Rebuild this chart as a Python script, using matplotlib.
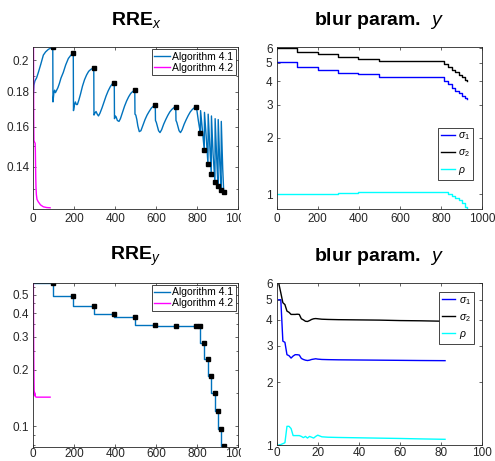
import matplotlib
matplotlib.use('Agg')
import matplotlib.pyplot as plt
from matplotlib.ticker import FixedLocator, NullFormatter, NullLocator
from matplotlib.transforms import Bbox, TransformedBbox

plt.rcParams['font.family'] = ['Liberation Sans', 'DejaVu Sans']
plt.rcParams['mathtext.fontset'] = 'custom'
plt.rcParams['mathtext.rm'] = 'Liberation Sans'
plt.rcParams['mathtext.it'] = 'Liberation Sans:italic'
plt.rcParams['mathtext.bf'] = 'Liberation Sans:bold'

BLUE = '#0072BD'
MAG = '#FF00FF'
AX_COL = '#262626'

# ---- RRE_x, Algorithm 4.1 ----
rrex_it = [0, 3, 8, 16, 24, 36, 49, 60, 73, 85, 95,
           96, 100, 104, 108, 112, 120, 127, 135, 146, 158, 171, 183, 195,
           196, 200, 205, 210, 215, 222, 230, 240, 250, 260, 270, 280, 295,
           296, 300, 306, 312, 318, 325, 335, 345, 355, 365, 375, 385, 395,
           396, 400, 404, 410, 418, 425, 435, 445, 455, 465, 475, 485, 495,
           496, 500, 505, 510, 517, 525, 535, 545, 555, 565, 575, 585, 595,
           596, 600, 605, 611, 618, 626, 636, 646, 656, 666, 676, 686, 695,
           696, 700, 705, 711, 718, 726, 736, 746, 756, 766, 776, 786, 795,
           797, 800, 805, 810, 815,
           816, 825, 834, 835, 844, 852, 853, 861, 868, 869, 877, 886,
           887, 895, 901, 902, 910, 916, 917, 924, 929]
rrex_val = [0.178, 0.184, 0.1868, 0.1886, 0.1918, 0.1972, 0.2036, 0.2058, 0.2075, 0.2085, 0.2089,
            0.174, 0.179, 0.181, 0.1795, 0.1805, 0.1825, 0.185, 0.1885, 0.192, 0.197, 0.2013, 0.2035, 0.2047,
            0.169, 0.172, 0.174, 0.1725, 0.1725, 0.175, 0.1785, 0.1835, 0.1875, 0.1905, 0.1928, 0.194, 0.1952,
            0.1665, 0.1675, 0.1685, 0.167, 0.166, 0.1675, 0.1705, 0.174, 0.1775, 0.1805, 0.183, 0.1848, 0.1857,
            0.1645, 0.166, 0.1655, 0.1635, 0.163, 0.1645, 0.168, 0.1715, 0.1745, 0.177, 0.179, 0.1802, 0.181,
            0.167, 0.1665, 0.164, 0.1605, 0.1575, 0.158, 0.161, 0.164, 0.1665, 0.1685, 0.1703, 0.1715, 0.1723,
            0.1635, 0.1625, 0.1605, 0.158, 0.157, 0.1585, 0.1615, 0.164, 0.1663, 0.1683, 0.1697, 0.1707, 0.1713,
            0.1635, 0.1625, 0.1605, 0.158, 0.157, 0.1585, 0.1615, 0.164, 0.1663, 0.1683, 0.1697, 0.1707, 0.1713,
            0.170, 0.1675, 0.1635, 0.160, 0.157,
            0.169, 0.158, 0.148, 0.168, 0.154, 0.1413, 0.167, 0.150, 0.1366, 0.166, 0.146, 0.133,
            0.1645, 0.143, 0.1311, 0.164, 0.141, 0.1296, 0.163, 0.139, 0.1286]

restart_it = [95, 195, 295, 395, 495, 595, 695, 795, 815, 834, 852, 868, 886, 901, 916, 929]
rrex_restart = [0.2089, 0.2047, 0.1952, 0.1857, 0.181, 0.1723, 0.1713, 0.1713,
                0.157, 0.148, 0.1413, 0.1366, 0.133, 0.1311, 0.1296, 0.1286]

# ---- RRE_x, Algorithm 4.2 ----
rrex2_it = [0, 1, 2, 3, 6, 9, 10, 11, 12, 13, 15, 18, 24, 35, 49, 65, 82]
rrex2_val = [0.30, 0.21, 0.165, 0.153, 0.152, 0.1515, 0.148, 0.141, 0.135, 0.131,
             0.1275, 0.1255, 0.1245, 0.1232, 0.1224, 0.1221, 0.1220]

# ---- RRE_y ----
rrey_start = 0.577
rrey_restart = [0.577, 0.492, 0.437, 0.396, 0.379, 0.344, 0.342, 0.341,
                0.340, 0.278, 0.228, 0.186, 0.150, 0.120, 0.097, 0.079]
rrey2_it = [0, 1, 2, 3, 4, 5, 6, 7, 8, 9, 10, 12, 15, 20, 30, 50, 82]
rrey2_val = [0.75, 0.42, 0.26, 0.19, 0.158, 0.147, 0.152, 0.146, 0.148, 0.145,
             0.144, 0.1435, 0.143, 0.143, 0.143, 0.143, 0.143]

# ---- blur parameters, Algorithm 4.1 ----
blur1_it = [0, 97, 200, 300, 397, 499, 816, 834, 852, 868, 886, 901, 916, 929]
blur1_s1 = [5.05, 4.77, 4.58, 4.43, 4.37, 4.23, 4.02, 3.85, 3.68, 3.56, 3.45, 3.35, 3.27, 3.22]
blur1_s2 = [6.0, 5.75, 5.55, 5.37, 5.26, 5.13, 4.92, 4.74, 4.58, 4.45, 4.32, 4.19, 4.08, 4.01]
blur1_rho = [1.0, 1.0, 1.008, 1.02, 1.028, 1.033, 1.025, 1.0, 0.985, 0.96, 0.93, 0.895, 0.86, 0.82]

# ---- blur parameters, Algorithm 4.2 ----
blur2_it = [1, 2, 3, 4, 5, 6, 7, 8, 9, 10, 11, 12, 13, 14, 15, 16, 17, 18, 19, 20,
            21, 22, 25, 30, 40, 50, 60, 70, 82]
blur2_s1 = [5.0, 5.0, 3.16, 3.12, 2.72, 2.69, 2.62, 2.68, 2.72, 2.72, 2.71, 2.61, 2.58, 2.56,
            2.55, 2.56, 2.58, 2.59, 2.60, 2.59, 2.585, 2.58, 2.575, 2.57, 2.565, 2.56, 2.555,
            2.55, 2.546]
blur2_s2 = [6.0, 5.4, 4.84, 4.74, 4.41, 4.35, 4.25, 4.25, 4.25, 4.26, 4.25, 4.05, 4.0, 3.94,
            3.93, 3.97, 4.02, 4.05, 4.06, 4.05, 4.04, 4.03, 4.02, 4.01, 4.0, 3.99, 3.97, 3.96,
            3.94]
blur2_rho = [1.0, 1.005, 1.015, 1.025, 1.23, 1.23, 1.20, 1.11, 1.11, 1.11, 1.11, 1.10, 1.085,
             1.10, 1.08, 1.10, 1.09, 1.08, 1.10, 1.115, 1.105, 1.095, 1.09, 1.087, 1.083,
             1.079, 1.075, 1.07, 1.065]

W, H = 495, 461
fig = plt.figure(figsize=(W / 100, H / 100), dpi=100)


def px_axes(l, t, r, b):
    return fig.add_axes([l / W, 1 - b / H, (r - l) / W, (b - t) / H])


def style(ax, xpad=3):
    for s in ax.spines.values():
        s.set_color(AX_COL)
        s.set_linewidth(0.6)
    ax.tick_params(which='both', direction='in', top=True, right=True,
                   colors=AX_COL, labelsize=8.5, width=0.5, pad=3)
    ax.tick_params(axis='x', pad=xpad)
    ax.tick_params(which='major', length=2.5)
    ax.tick_params(which='minor', length=1.5)


def title(ax, s):
    ax.set_title(s, fontsize=14, fontweight='bold', pad=16)


def legend(ax, **kw):
    lg = ax.legend(fontsize=7.5, frameon=True, fancybox=False, framealpha=1,
                   edgecolor=AX_COL, borderpad=0.25, labelspacing=0.1,
                   handlelength=1.5, handletextpad=0.25, **kw)
    lg.get_frame().set_linewidth(0.6)
    return lg


ax1 = px_axes(33.3, 47, 238.3, 209)
ax2 = px_axes(276.7, 47, 482, 209)
ax3 = px_axes(33.3, 282.7, 238.3, 446.7)
ax4 = px_axes(276.7, 283, 482, 445)

# RRE_x
ax1.plot(rrex_it, rrex_val, color=BLUE, lw=1.0, label='Algorithm 4.1')
ax1.plot(rrex2_it, rrex2_val, color=MAG, lw=1.0, label='Algorithm 4.2')
ax1.plot(restart_it, rrex_restart, 's', color='black', ms=3.5, ls='none')
ax1.set_yscale('log')
ax1.set_xlim(0, 1000)
ax1.set_ylim(0.1215, 0.2092)
ax1.yaxis.set_major_locator(FixedLocator([0.14, 0.16, 0.18, 0.2]))
ax1.set_yticklabels(['0.14', '0.16', '0.18', '0.2'])
ax1.yaxis.set_minor_locator(FixedLocator([0.13, 0.15, 0.17, 0.19]))
ax1.yaxis.set_minor_formatter(NullFormatter())
ax1.set_xticks([0, 200, 400, 600, 800, 1000])
title(ax1, 'RRE$_x$')
legend(ax1, loc='upper right', borderaxespad=0.2)

# blur param, Algorithm 4.1
ax2.step(blur1_it, blur1_s1, where='post', color='blue', lw=1.0, label=r'$\sigma_1$')
ax2.step(blur1_it, blur1_s2, where='post', color='black', lw=1.0, label=r'$\sigma_2$')
ax2.step(blur1_it, blur1_rho, where='post', color='cyan', lw=1.0, label=r'$\rho$')
ax2.set_yscale('log')
ax2.set_xlim(0, 1000)
ax2.set_ylim(0.835, 6.08)
ax2.yaxis.set_major_locator(FixedLocator([1, 2, 3, 4, 5, 6]))
ax2.set_yticklabels(['1', '2', '3', '4', '5', '6'])
ax2.yaxis.set_minor_locator(NullLocator())
ax2.set_xticks([0, 200, 400, 600, 800, 1000])
title(ax2, 'blur param.  $y$')
lg2 = ax2.legend(fontsize=7.5, frameon=True, fancybox=False, framealpha=1,
                 edgecolor=AX_COL, borderpad=0.3, labelspacing=0.5,
                 handlelength=1.3, handletextpad=0.3,
                 loc='lower right', bbox_to_anchor=(0.982, 0.148))
lg2.get_frame().set_linewidth(0.6)

# RRE_y
ax3.step([0] + restart_it, [rrey_start] + rrey_restart, where='pre', color=BLUE, lw=1.0,
         label='Algorithm 4.1')
ax3.plot(rrey2_it, rrey2_val, color=MAG, lw=1.0, label='Algorithm 4.2')
ax3.plot(restart_it, rrey_restart, 's', color='black', ms=3.5, ls='none')
ax3.set_yscale('log')
ax3.set_xlim(0, 1000)
ax3.set_ylim(0.078, 0.58)
ax3.yaxis.set_major_locator(FixedLocator([0.1, 0.2, 0.3, 0.4, 0.5]))
ax3.set_yticklabels(['0.1', '0.2', '0.3', '0.4', '0.5'])
ax3.yaxis.set_minor_locator(FixedLocator([0.08, 0.09, 0.15, 0.25, 0.35, 0.45, 0.55]))
ax3.yaxis.set_minor_formatter(NullFormatter())
ax3.set_xticks([0, 200, 400, 600, 800, 1000])
title(ax3, 'RRE$_y$')
legend(ax3, loc='upper right', borderaxespad=0.2)

# blur param, Algorithm 4.2
ax4.plot(blur2_it, blur2_s1, color='blue', lw=1.0, label=r'$\sigma_1$')
ax4.plot(blur2_it, blur2_s2, color='black', lw=1.0, label=r'$\sigma_2$')
ax4.plot(blur2_it, blur2_rho, color='cyan', lw=1.0, label=r'$\rho$')
ax4.set_yscale('log')
ax4.set_xlim(0, 100)
ax4.set_ylim(1.0, 6.02)
ax4.yaxis.set_major_locator(FixedLocator([1, 2, 3, 4, 5, 6]))
ax4.set_yticklabels(['1', '2', '3', '4', '5', '6'])
ax4.yaxis.set_minor_locator(NullLocator())
ax4.set_xticks([0, 20, 40, 60, 80, 100])
title(ax4, 'blur param.  $y$')
lg4 = ax4.legend(fontsize=7.5, frameon=True, fancybox=False, framealpha=1,
                 edgecolor=AX_COL, borderpad=0.3, labelspacing=0.5,
                 handlelength=1.3, handletextpad=0.3,
                 loc='upper right', bbox_to_anchor=(0.985, 0.977))
lg4.get_frame().set_linewidth(0.6)

style(ax1)
style(ax2)
style(ax3, xpad=1.2)
style(ax4, xpad=1.2)

# the left panels are cut at their right edge in the original
clip = TransformedBbox(Bbox([[0, 0], [241 / W, 1]]), fig.transFigure)
for ax in (ax1, ax3):
    for lab in ax.get_xticklabels():
        lab.set_clip_on(True)
        lab.set_clip_box(clip)

fig.savefig('out.png', dpi=100)
